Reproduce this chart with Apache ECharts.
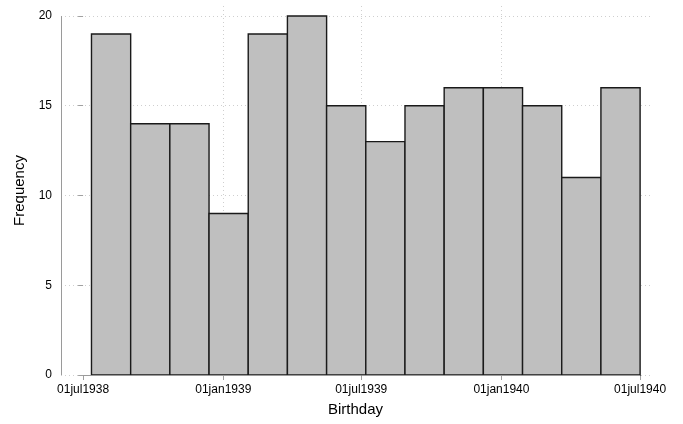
<!DOCTYPE html>
<html><head><meta charset="utf-8">
<script src="https://cdn.jsdelivr.net/npm/echarts@6/dist/echarts.min.js"></script>
<style>html,body{margin:0;padding:0;background:#fff}#c{width:683px;height:424px}</style>
</head><body><div id="c"></div>
<script>
// Histogram counts (frequency per bin)
const counts = [19, 14, 14, 9, 19, 20, 15, 13, 15, 16, 16, 15, 11, 16];
// Bin definition in days since 01jul1938
const binStartDay = 11;
const binWidthDays = 51.43;
// X tick labels and their day offsets from 01jul1938
const xTickLabels = ['01jul1938', '01jan1939', '01jul1939', '01jan1940', '01jul1940'];
const xTickDays = [0, 184, 365, 549, 731];
const xGridDays = [184, 365, 549];
// Y ticks
const yTicks = [0, 5, 10, 15, 20];

const X_MIN = -29, X_MAX = 744, Y_MAX = 20.557;
const FONT = '"Liberation Sans", Arial, Helvetica, sans-serif';

const binData = counts.map((c, i) => [binStartDay + i * binWidthDays, binStartDay + (i + 1) * binWidthDays, c]);

const gridLines = [];
yTicks.forEach(v => gridLines.push([{coord: [X_MIN, v]}, {coord: [X_MAX, v]}]));
xGridDays.forEach(d => gridLines.push([{coord: [d, 0]}, {coord: [d, Y_MAX]}]));

const axisLines = [
  [{coord: [xTickDays[0], 0]}, {coord: [xTickDays[xTickDays.length - 1], 0]}],
  [{coord: [X_MIN, 0]}, {coord: [X_MIN, 20]}]
];

const chart = echarts.init(document.getElementById('c'), null, {renderer: 'canvas'});
chart.setOption({
  animation: false,
  grid: {left: 61, right: 33, top: 6, bottom: 49},
  xAxis: {
    type: 'value', min: X_MIN, max: X_MAX,
    axisLine: {show: false},
    splitLine: {show: false},
    axisTick: {show: true, length: 5, customValues: xTickDays, lineStyle: {color: '#a0a0a0', width: 1}},
    axisLabel: {
      customValues: xTickDays, margin: 9, color: '#000', fontSize: 12, fontFamily: FONT,
      formatter: v => { const i = xTickDays.indexOf(v); return i >= 0 ? xTickLabels[i] : ''; }
    },
    name: 'Birthday', nameLocation: 'middle', nameGap: 27,
    nameTextStyle: {color: '#000', fontSize: 15, fontFamily: FONT}
  },
  yAxis: {
    type: 'value', min: 0, max: Y_MAX,
    axisLine: {show: false},
    splitLine: {show: false},
    axisTick: {show: true, length: 5, customValues: yTicks, lineStyle: {color: '#a0a0a0', width: 1}},
    axisLabel: {customValues: yTicks, margin: 9, color: '#000', fontSize: 12, fontFamily: FONT},
    name: 'Frequency', nameLocation: 'middle', nameGap: 34,
    nameTextStyle: {color: '#000', fontSize: 15, fontFamily: FONT}
  },
  series: [
    {
      type: 'line', data: [], z: 0, silent: true,
      markLine: {
        silent: true, z: 0, symbol: ['none', 'none'], label: {show: false}, animation: false,
        lineStyle: {color: '#cfcfcf', type: [1, 3], width: 1},
        data: gridLines
      }
    },
    {
      type: 'custom', z: 5,
      data: binData,
      renderItem: (params, api) => {
        const p0 = api.coord([api.value(0), api.value(2)]);
        const p1 = api.coord([api.value(1), 0]);
        return {
          type: 'rect',
          shape: {x: p0[0], y: p0[1], width: p1[0] - p0[0], height: p1[1] - p0[1]},
          style: {fill: '#bfbfbf', stroke: '#1a1a1a', lineWidth: 1.4}
        };
      }
    },
    {
      type: 'line', data: [], z: 6, silent: true,
      markLine: {
        silent: true, z: 6, symbol: ['none', 'none'], label: {show: false}, animation: false,
        lineStyle: {color: '#9a9a9a', type: 'solid', width: 1},
        data: axisLines
      }
    }
  ]
});
</script></body></html>
